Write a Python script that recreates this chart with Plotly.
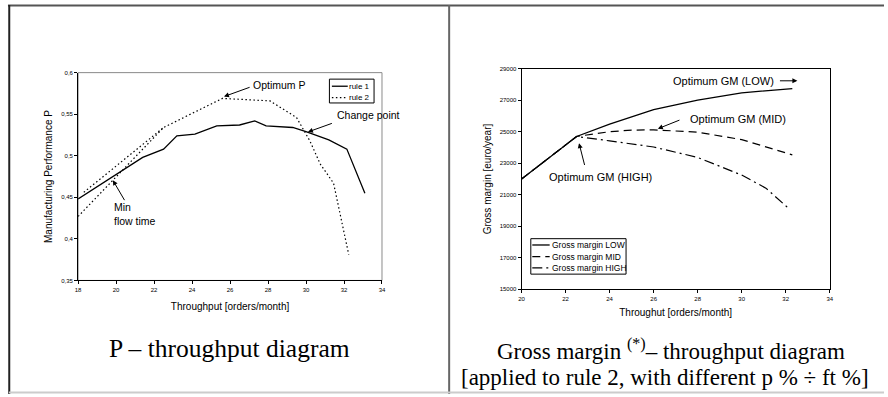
import plotly.graph_objects as go

# ---------------- data ----------------
# Left panel: Manufacturing Performance P vs throughput
rule1_x = [18.0, 21.4, 22.5, 23.2, 24.15, 25.3, 26.5, 27.3, 27.9, 29.3, 30.0, 31.2, 32.15, 33.1]
rule1_y = [0.448, 0.498, 0.508, 0.524, 0.526, 0.536, 0.537, 0.542, 0.536, 0.534, 0.529, 0.519, 0.508, 0.455]

rule2_x = [18.3, 22.5, None, 18.0, 22.5, 25.6, 28.1, 29.5, 30.2, 30.75, 31.45, 32.25]
rule2_y = [0.456, 0.534, None, 0.427, 0.534, 0.569, 0.566, 0.546, 0.518, 0.490, 0.467, 0.381]

left_x_ticks = [18, 20, 22, 24, 26, 28, 30, 32, 34]
left_y_ticks = [0.35, 0.4, 0.45, 0.5, 0.55, 0.6]
left_y_ticktext = ["0,35", "0,4", "0,45", "0,5", "0,55", "0,6"]

# Right panel: Gross margin vs throughput
low_x = [20.0, 22.5, 24.0, 26.0, 28.0, 30.0, 32.3]
low_y = [22000, 24700, 25480, 26400, 27010, 27470, 27740]

mid_x = [20.0, 22.5, 24.0, 25.0, 26.0, 28.0, 30.0, 32.3]
mid_y = [22000, 24700, 25000, 25100, 25120, 24970, 24500, 23530]

high_x = [20.0, 22.5, 24.0, 26.0, 28.0, 30.0, 31.1, 32.2]
high_y = [22000, 24700, 24420, 24030, 23370, 22250, 21420, 20050]

right_x_ticks = [20, 22, 24, 26, 28, 30, 32, 34]
right_y_ticks = [15000, 17000, 19000, 21000, 23000, 25000, 27000, 29000]
right_y_ticktext = [str(v) for v in right_y_ticks]

W, H = 888, 397
SANS = "Liberation Sans, Arial, sans-serif"
SERIF = "Liberation Serif, Times New Roman, serif"

STYLE_RULE1 = dict(color="black", width=1.3)
STYLE_RULE2 = dict(color="black", width=1.2, dash="1.5px,2.5px")
STYLE_LOW = dict(color="black", width=1.3)
STYLE_MID = dict(color="black", width=1.2, dash="8px,5px")
STYLE_HIGH = dict(color="black", width=1.2, dash="10px,4px,2px,4px")


def px(xp):
    return xp / W


def py(yp):
    return 1 - yp / H


fig = go.Figure()

fig.add_trace(go.Scatter(x=rule1_x, y=rule1_y, mode="lines", name="rule 1",
                         line=STYLE_RULE1, xaxis="x", yaxis="y", connectgaps=False))
fig.add_trace(go.Scatter(x=rule2_x, y=rule2_y, mode="lines", name="rule 2",
                         line=STYLE_RULE2, xaxis="x", yaxis="y", connectgaps=False))
fig.add_trace(go.Scatter(x=low_x, y=low_y, mode="lines", name="Gross margin LOW",
                         line=STYLE_LOW, xaxis="x2", yaxis="y2"))
fig.add_trace(go.Scatter(x=mid_x, y=mid_y, mode="lines", name="Gross margin MID",
                         line=STYLE_MID, xaxis="x2", yaxis="y2"))
fig.add_trace(go.Scatter(x=high_x, y=high_y, mode="lines", name="Gross margin HIGH",
                         line=STYLE_HIGH, xaxis="x2", yaxis="y2"))

tickfont = dict(family=SANS, size=6, color="black")
titlefont = dict(family=SANS, size=10, color="black")

common_axis = dict(showgrid=False, zeroline=False, showline=True, linecolor="black",
                   linewidth=1, ticks="outside", ticklen=3, tickcolor="black",
                   tickfont=tickfont)

fig.update_layout(
    width=W, height=H,
    margin=dict(l=0, r=0, t=0, b=0),
    paper_bgcolor="white", plot_bgcolor="white",
    font=dict(family=SANS, color="black"),
    showlegend=False,
    xaxis=dict(domain=[px(75.7), px(382)], range=[18, 34], tickvals=left_x_ticks,
               anchor="y", title=dict(text="Throughput [orders/month]", font=titlefont, standoff=11),
               **common_axis),
    yaxis=dict(domain=[py(281.7), py(70.7)], range=[0.35, 0.6], tickvals=left_y_ticks,
               ticktext=left_y_ticktext, anchor="x",
               title=dict(text="Manufacturing Performance P", font=titlefont, standoff=6),
               **common_axis),
    xaxis2=dict(domain=[px(522.7), px(833.3)], range=[20, 34], tickvals=right_x_ticks,
                anchor="y2", title=dict(text="Throughut [orders/month]", font=titlefont, standoff=8),
                mirror=True, **common_axis),
    yaxis2=dict(domain=[py(290.7), py(66.7)], range=[15000, 29000], tickvals=right_y_ticks,
                ticktext=right_y_ticktext, anchor="x2",
                title=dict(text="Gross margin [euro/year]", font=titlefont, standoff=6),
                mirror=True, **common_axis),
)

# plot box border of left chart (gray top/right)
fig.add_shape(type="rect", xref="x domain", yref="y domain", x0=0, x1=1, y0=0, y1=1,
              line=dict(color="#8a8a8a", width=1), layer="below")

# panel frame lines
fig.add_shape(type="line", xref="paper", yref="paper", x0=px(5), x1=1, y0=py(2.5), y1=py(2.5),
              line=dict(color="#555555", width=2))
fig.add_shape(type="line", xref="paper", yref="paper", x0=px(6.3), x1=px(6.3), y0=0, y1=py(2),
              line=dict(color="#222222", width=2))
fig.add_shape(type="line", xref="paper", yref="paper", x0=px(449.7), x1=px(449.7), y0=0, y1=py(2),
              line=dict(color="#666666", width=2))
fig.add_shape(type="line", xref="paper", yref="paper", x0=px(6), x1=1, y0=py(395.5), y1=py(395.5),
              line=dict(color="#cccccc", width=2))


# ---------------- legends (compact, Excel-like boxes) ----------------
def legend_box(x0, y0, x1, y1, rows, font_size, sample_x0, sample_x1, text_x):
    fig.add_shape(type="rect", xref="paper", yref="paper", x0=px(x0), x1=px(x1),
                  y0=py(y1), y1=py(y0), line=dict(color="black", width=1), fillcolor="white")
    for yrow, name, style in rows:
        fig.add_shape(type="line", xref="paper", yref="paper", x0=px(sample_x0), x1=px(sample_x1),
                      y0=py(yrow), y1=py(yrow), line=style)
        fig.add_annotation(xref="paper", yref="paper", x=px(text_x), y=py(yrow), text=name,
                           showarrow=False, xanchor="left", yanchor="middle",
                           font=dict(family=SANS, size=font_size, color="black"))


legend_box(329, 77.3, 374, 101.5,
           [(84.5, "rule 1", STYLE_RULE1), (96.0, "rule 2", STYLE_RULE2)],
           8, 331.5, 347.5, 346.5)
legend_box(532, 239.3, 628, 275.3,
           [(245.7, "Gross margin LOW", STYLE_LOW), (257.5, "Gross margin MID", STYLE_MID),
            (269.0, "Gross margin HIGH", STYLE_HIGH)],
           8.5, 533.5, 551, 551)

ann_font_l = dict(family=SANS, size=10.5, color="black")
ann_font_r = dict(family=SANS, size=11, color="black")


def arrow(xref, yref, x_tail, y_tail, x_head, y_head):
    fig.add_annotation(xref=xref, yref=yref, axref=xref, ayref=yref,
                       x=x_head, y=y_head, ax=x_tail, ay=y_tail, text="",
                       showarrow=True, arrowhead=2, arrowsize=1, arrowwidth=1, arrowcolor="black")


# left annotations
fig.add_annotation(xref="x", yref="y", x=27.1, y=0.5855, text="Optimum P", showarrow=False,
                   xanchor="left", yanchor="middle", font=ann_font_l)
arrow("x", "y", 27.11, 0.583, 25.68, 0.5712)
fig.add_annotation(xref="x", yref="y", x=31.5, y=0.5495, text="Change point", showarrow=False,
                   xanchor="left", yanchor="middle", font=ann_font_l)
arrow("x", "y", 31.44, 0.5396, 30.1, 0.5286)
fig.add_annotation(xref="x", yref="y", x=19.8, y=0.430, text="Min<br>flow time", showarrow=False,
                   xanchor="left", yanchor="middle", align="left", font=ann_font_l)
arrow("x", "y", 20.49, 0.4448, 19.83, 0.4705)

# right annotations
fig.add_annotation(xref="x2", yref="y2", x=31.55, y=28213, text="Optimum GM (LOW)", showarrow=False,
                   xanchor="right", yanchor="middle", font=ann_font_r)
arrow("x2", "y2", 31.67, 28231, 32.53, 28231)
fig.add_annotation(xref="x2", yref="y2", x=27.54, y=25794, text="Optimum GM (MID)", showarrow=False,
                   xanchor="left", yanchor="middle", font=ann_font_r)
arrow("x2", "y2", 27.24, 25775, 26.19, 25188)
fig.add_annotation(xref="x2", yref="y2", x=21.14, y=22125, text="Optimum GM (HIGH)", showarrow=False,
                   xanchor="left", yanchor="middle", font=ann_font_r)
arrow("x2", "y2", 22.88, 22794, 22.61, 24275)

# captions
fig.add_annotation(xref="paper", yref="paper", x=px(228), y=py(351),
                   text="P – throughput diagram", showarrow=False,
                   xanchor="center", yanchor="middle", font=dict(family=SERIF, size=25.5, color="black"))
fig.add_annotation(xref="paper", yref="paper", x=px(673), y=py(352),
                   text="Gross margin <sup>(*)</sup>– throughput diagram", showarrow=False,
                   xanchor="center", yanchor="middle", font=dict(family=SERIF, size=23, color="black"))
fig.add_annotation(xref="paper", yref="paper", x=px(667), y=py(380),
                   text="[applied to rule 2, with different p % ÷ ft %]", showarrow=False,
                   xanchor="center", yanchor="middle", font=dict(family=SERIF, size=23, color="black"))

fig.write_html("out.html", config={"displayModeBar": False},
               post_script="document.body.style.margin='0';document.body.style.overflow='hidden';")
